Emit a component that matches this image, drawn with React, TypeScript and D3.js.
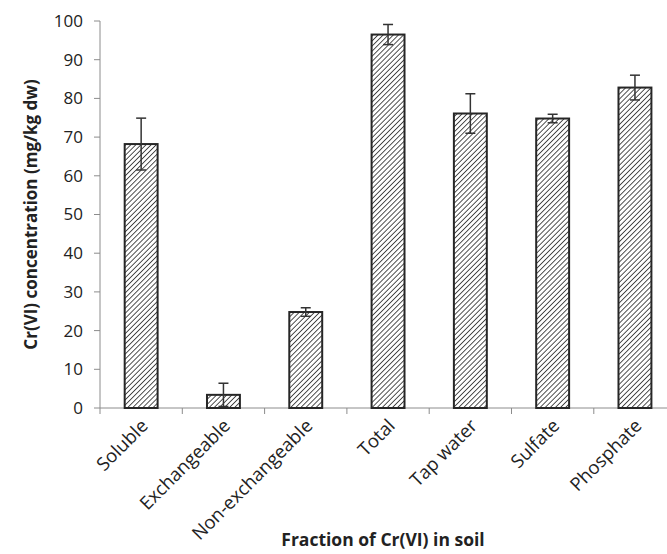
import * as d3 from 'd3';
import React from 'react';

const categories = ['Soluble', 'Exchangeable', 'Non-exchangeable', 'Total', 'Tap water', 'Sulfate', 'Phosphate'];
const means = [68.2, 3.4, 24.8, 96.5, 76.1, 74.8, 82.8];
const errors = [6.7, 3.0, 1.1, 2.6, 5.1, 1.1, 3.2];
const yTicks = [0, 10, 20, 30, 40, 50, 60, 70, 80, 90, 100];

const width = 667, height = 554;
const left = 100, top = 21, bottom = 408;
const band = 82.3;

export default function App() {
  const x = d3.scaleBand().domain(categories).range([left, left + band * categories.length]).paddingInner(0.6).paddingOuter(0.3);
  const y = d3.scaleLinear().domain([0, 100]).range([bottom, top]);
  const font = "'Open Sans', 'Liberation Sans', sans-serif";
  const axisCol = '#8c8c8c';

  return (
    <svg width={width} height={height} style={{position: 'absolute', left: 0, top: 0, background: '#fff'}}>
      <defs>
        <pattern id="hatch" patternUnits="userSpaceOnUse" width="3.6" height="3.6" patternTransform="rotate(45)">
          <rect width="3.6" height="3.6" fill="#fff" />
          <line x1="0" y1="0" x2="0" y2="3.6" stroke="#333" strokeWidth="1.7" />
        </pattern>
      </defs>

      {/* y axis */}
      <line x1={left} x2={left} y1={top} y2={bottom} stroke={axisCol} strokeWidth={1} />
      {yTicks.map(t => (
        <g key={t}>
          <line x1={left - 6} x2={left} y1={y(t)} y2={y(t)} stroke={axisCol} />
          <text x={left - 17} y={y(t)} dy="0.35em" textAnchor="end" fontSize={17} fontFamily={font} fill="#222">{t}</text>
        </g>
      ))}

      {/* x axis */}
      <line x1={left} x2={left + band * categories.length} y1={bottom} y2={bottom} stroke={axisCol} />
      {d3.range(categories.length + 1).map(i => (
        <line key={i} x1={left + band * i} x2={left + band * i} y1={bottom} y2={bottom + 6} stroke={axisCol} />
      ))}

      {categories.map((c, i) => {
        const bx = x(c)!;
        const cx = bx + x.bandwidth() / 2;
        return (
          <g key={c}>
            <rect x={bx} y={y(means[i])} width={x.bandwidth()} height={bottom - y(means[i])}
              fill="url(#hatch)" stroke="#262626" strokeWidth={2} />
            <line x1={cx} x2={cx} y1={y(means[i] - errors[i])} y2={y(means[i] + errors[i])} stroke="#333" strokeWidth={1.5} />
            <line x1={cx - 5} x2={cx + 5} y1={y(means[i] + errors[i])} y2={y(means[i] + errors[i])} stroke="#333" strokeWidth={1.5} />
            <line x1={cx - 5} x2={cx + 5} y1={y(means[i] - errors[i])} y2={y(means[i] - errors[i])} stroke="#333" strokeWidth={1.5} />
            <text transform={`translate(${cx + 8},${bottom + 19}) rotate(-45)`} textAnchor="end" fontSize={18.5}
              fontFamily={font} fill="#222">{c}</text>
          </g>
        );
      })}

      <text transform={`translate(37,${(top + bottom) / 2}) rotate(-90)`} textAnchor="middle" fontSize={17}
        fontWeight="bold" fontFamily={font} fill="#222">Cr(VI) concentration (mg/kg dw)</text>
      <text x={383} y={546} textAnchor="middle" fontSize={17.5} fontWeight="bold" fontFamily={font} fill="#222">Fraction of Cr(VI) in soil</text>
    </svg>
  );
}
